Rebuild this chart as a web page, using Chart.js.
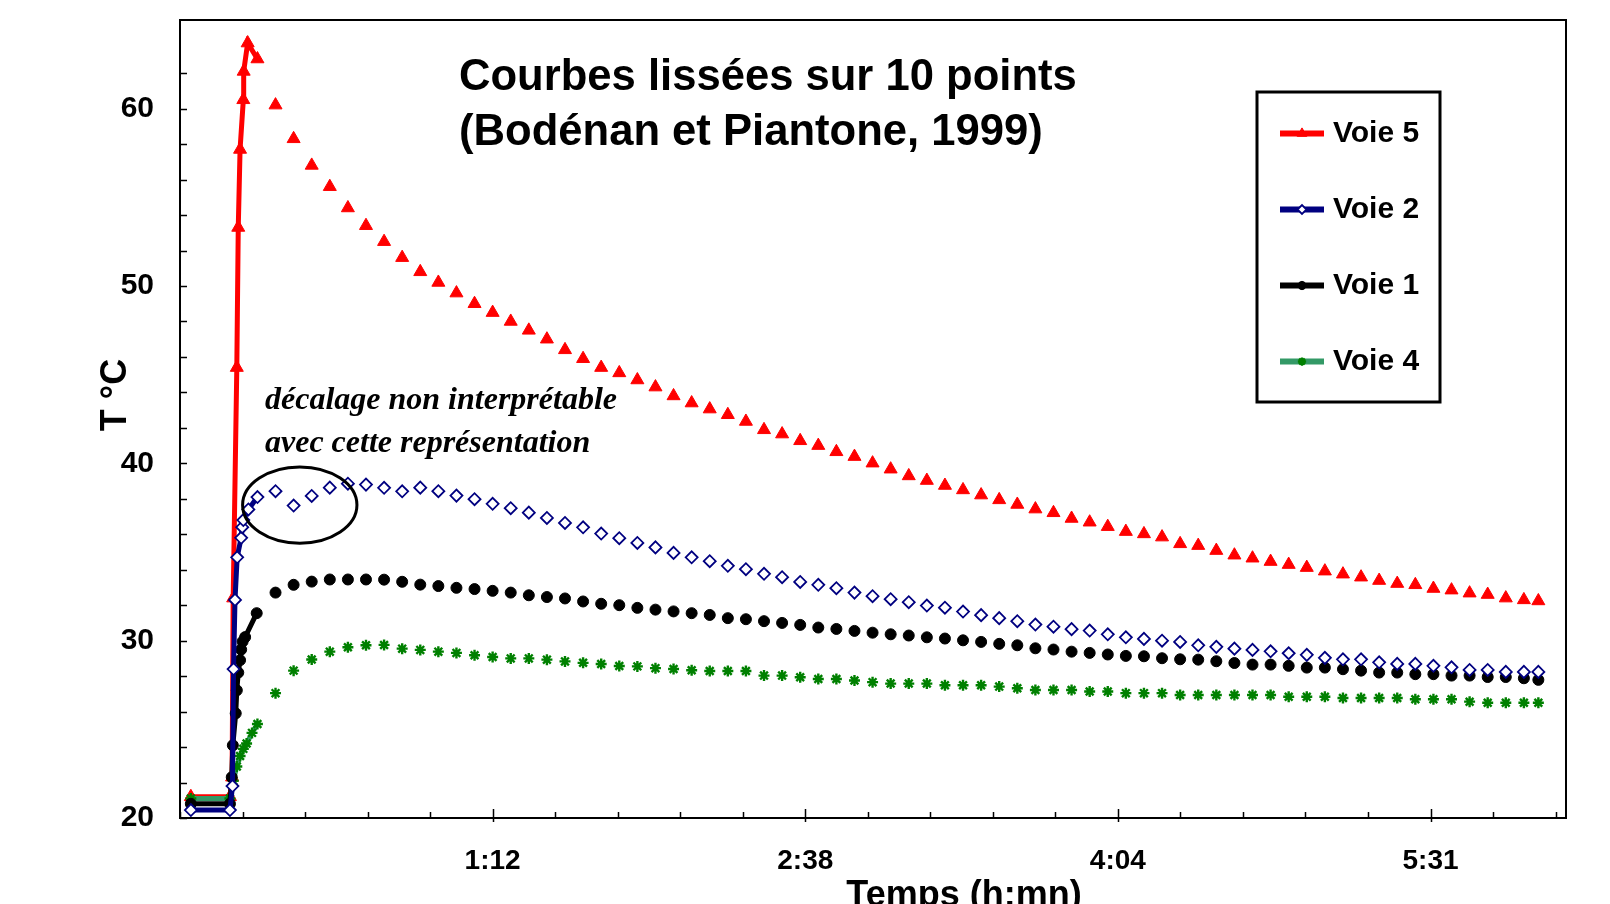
<!DOCTYPE html>
<html>
<head>
    <title>Courbes lissées sur 10 points</title>
    <script src="https://cdn.jsdelivr.net/npm/chart.js@4.4.1/dist/chart.umd.min.js"></script>
    <style>
        body {
            margin: 0;
            background-color: white;
        }
        .chart-container {
            width: 1610px;
            height: 904px;
        }
    </style>
</head>
<body>
    <div class="chart-container">
        <canvas id="courbesChart"></canvas>
    </div>

    <script>
        // temps en minutes (0 = début de la chauffe)
        // début de l'essai : points serrés, reliés par un trait
        const tempsDebut5 = [-11.4, -0.6, 0.0, 0.3, 1.3, 1.7, 2.2, 3.1, 3.2, 4.3, 7.0];
        const voie5Debut  = [21.2, 21.2, 22.3, 32.4, 45.4, 53.3, 57.7, 60.5, 62.1, 63.7, 62.8];
        const tempsDebut2 = [-11.4, -0.6, 0.1, 0.4, 0.8, 1.4, 2.5, 2.8, 3.1, 4.5, 7.0];
        const voie2Debut  = [20.45, 20.45, 21.8, 28.4, 32.3, 34.7, 35.8, 36.4, 36.8, 37.4, 38.1];
        const tempsDebut1 = [-11.4, -0.6, -0.1, 0.2, 1.0, 1.3, 1.7, 2.2, 2.5, 2.9, 3.6, 6.8];
        const voie1Debut  = [20.8, 20.8, 22.3, 24.1, 25.9, 27.2, 28.2, 28.9, 29.5, 29.95, 30.2, 31.55];
        const tempsDebut4 = [-11.4, -0.6, 0.3, 1.3, 2.2, 3.1, 4.0, 5.5, 7.0];
        const voie4Debut  = [21.1, 21.1, 22.1, 22.9, 23.5, 23.9, 24.2, 24.8, 25.3];

        // suite : un point toutes les 5 minutes, marqueurs seuls
        const tempsSuite = [12, 17, 22, 27, 32, 37, 42, 47, 52, 57,
            62, 67, 72, 77, 82, 87, 92, 97, 102, 107,
            112, 117, 122, 127, 132, 137, 142, 147, 152, 157,
            162, 167, 172, 177, 182, 187, 192, 197, 202, 207,
            212, 217, 222, 227, 232, 237, 242, 247, 252, 257,
            262, 267, 272, 277, 282, 287, 292, 297, 302, 307,
            312, 317, 322, 327, 332, 337, 342, 347, 352, 357, 361];
        const voie5Suite = [60.2, 58.3, 56.8, 55.6, 54.4, 53.4, 52.5, 51.6, 50.8, 50.2,
            49.6, 49.0, 48.5, 48.0, 47.5, 47.0, 46.4, 45.9, 45.4, 45.1,
            44.7, 44.3, 43.8, 43.4, 43.06, 42.74, 42.36, 41.89, 41.65, 41.27,
            41.0, 40.65, 40.38, 40.01, 39.67, 39.29, 39.03, 38.75, 38.5, 38.21,
            37.94, 37.68, 37.42, 37.21, 36.89, 36.68, 36.43, 36.15, 36.02, 35.84,
            35.46, 35.36, 35.08, 34.82, 34.65, 34.46, 34.29, 34.12, 33.92, 33.75,
            33.58, 33.39, 33.22, 33.15, 32.94, 32.85, 32.68, 32.6, 32.4, 32.3, 32.24];
        const voie2Suite = [38.43, 37.62, 38.16, 38.63, 38.85, 38.8, 38.62, 38.42, 38.63, 38.43,
            38.18, 37.98, 37.72, 37.47, 37.22, 36.92, 36.64, 36.39, 36.04, 35.78,
            35.51, 35.26, 34.95, 34.7, 34.48, 34.22, 34.03, 33.77, 33.58, 33.31,
            33.15, 32.96, 32.71, 32.51, 32.34, 32.17, 31.98, 31.86, 31.64, 31.44,
            31.27, 31.1, 30.91, 30.79, 30.65, 30.57, 30.36, 30.19, 30.1, 30.0,
            29.93, 29.74, 29.65, 29.55, 29.48, 29.4, 29.29, 29.2, 29.03, 28.95,
            28.95, 28.78, 28.69, 28.69, 28.58, 28.5, 28.35, 28.35, 28.24, 28.24, 28.24];
        const voie1Suite = [32.71, 33.15, 33.33, 33.45, 33.45, 33.45, 33.44, 33.32, 33.16, 33.08,
            32.98, 32.91, 32.81, 32.71, 32.56, 32.46, 32.38, 32.21, 32.08, 32.0,
            31.85, 31.75, 31.65, 31.55, 31.45, 31.27, 31.21, 31.1, 31.0, 30.89,
            30.74, 30.66, 30.55, 30.45, 30.36, 30.29, 30.19, 30.12, 30.02, 29.93,
            29.82, 29.74, 29.57, 29.5, 29.38, 29.31, 29.22, 29.14, 29.12, 29.01,
            28.95, 28.93, 28.84, 28.74, 28.65, 28.65, 28.58, 28.48, 28.48, 28.39,
            28.31, 28.2, 28.2, 28.11, 28.11, 28.03, 28.03, 27.95, 27.95, 27.88, 27.79];
        const voie4Suite = [27.04, 28.31, 28.94, 29.38, 29.63, 29.74, 29.76, 29.55, 29.48, 29.38,
            29.31, 29.18, 29.08, 29.0, 29.0, 28.93, 28.83, 28.75, 28.68, 28.57,
            28.55, 28.45, 28.4, 28.33, 28.29, 28.29, 28.29, 28.03, 28.03, 27.94,
            27.84, 27.84, 27.75, 27.66, 27.58, 27.58, 27.58, 27.49, 27.49, 27.49,
            27.41, 27.32, 27.22, 27.22, 27.22, 27.13, 27.13, 27.04, 27.04, 27.04,
            26.94, 26.94, 26.94, 26.94, 26.94, 26.94, 26.84, 26.84, 26.84, 26.77,
            26.77, 26.77, 26.77, 26.7, 26.7, 26.7, 26.56, 26.5, 26.5, 26.5, 26.5];

        // graduations de l'axe des temps (minutes) et étiquettes h:mn
        const graduationsX = [-14.4, 2.88, 20.16, 37.44, 54.72, 72, 89.28, 106.56, 123.84, 141.12,
            158.4, 175.68, 192.96, 210.24, 227.52, 244.8, 262.08, 279.36, 296.64, 313.92,
            331.2, 348.48, 365.76];
        const majeuresX = [72, 158.4, 244.8, 331.2];
        const etiquettesX = ['1:12', '2:38', '4:04', '5:31'];

        // zone entourée (temps en minutes, température en °C)
        const zoneEntouree = { t0: 2.9, t1: 34.5, v0: 35.5, v1: 39.8 };

        const SANS = "'Liberation Sans', Arial, sans-serif";
        const SERIF = "'Liberation Serif', 'Times New Roman', serif";

        function points(tDebut, vDebut, vSuite) {
            return tDebut.map((t, i) => ({ x: t, y: vDebut[i] }))
                .concat(tempsSuite.map((t, i) => ({ x: t, y: vSuite[i] })));
        }

        function serie(label, tDebut, vDebut, vSuite, ligne, style) {
            const nDebut = tDebut.length;
            return Object.assign({
                label: label,
                data: points(tDebut, vDebut, vSuite),
                borderColor: ligne,
                borderWidth: 5,
                tension: 0,
                segment: {
                    borderColor: ctx => ctx.p1DataIndex < nDebut ? ligne : 'rgba(0,0,0,0)'
                }
            }, style);
        }

        const datasets = [
            serie('Voie 5', tempsDebut5, voie5Debut, voie5Suite, '#ff0000', {
                pointStyle: 'triangle', pointRadius: 7.5, pointBorderWidth: 1,
                pointBackgroundColor: '#ff0000', pointBorderColor: '#ff0000', order: 3
            }),
            serie('Voie 2', tempsDebut2, voie2Debut, voie2Suite, '#000080', {
                pointStyle: 'rectRot', pointRadius: 6, pointBorderWidth: 1.8,
                pointBackgroundColor: '#ffffff', pointBorderColor: '#000080', order: 0
            }),
            serie('Voie 1', tempsDebut1, voie1Debut, voie1Suite, '#000000', {
                pointStyle: 'circle', pointRadius: 5.5, pointBorderWidth: 1,
                pointBackgroundColor: '#000000', pointBorderColor: '#000000', order: 1
            }),
            serie('Voie 4', tempsDebut4, voie4Debut, voie4Suite, '#339966', {
                pointStyle: 'star', pointRadius: 5.5, pointBorderWidth: 2.4,
                pointBackgroundColor: '#008000', pointBorderColor: '#008000', order: 2
            })
        ];

        // cadre, graduations intérieures, titre, annotation et légende
        const decor = {
            id: 'decor',
            afterDraw(chart) {
                const { ctx, chartArea: a, scales: { x, y } } = chart;
                ctx.save();
                ctx.strokeStyle = '#000';
                ctx.lineWidth = 2;
                ctx.strokeRect(a.left, a.top, a.right - a.left, a.bottom - a.top);

                ctx.lineWidth = 1.5;
                ctx.beginPath();
                y.ticks.forEach(t => {
                    const py = Math.round(y.getPixelForValue(t.value)) + 0.5;
                    ctx.moveTo(a.left, py);
                    ctx.lineTo(a.left + 7, py);
                });
                x.ticks.forEach(t => {
                    const px = Math.round(x.getPixelForValue(t.value)) + 0.5;
                    const majeure = majeuresX.some(m => Math.abs(m - t.value) < 0.01);
                    ctx.moveTo(px, a.bottom + (majeure ? 4 : 0));
                    ctx.lineTo(px, a.bottom - (majeure ? 9 : 6));
                });
                ctx.stroke();

                // ellipse
                const ex0 = x.getPixelForValue(zoneEntouree.t0), ex1 = x.getPixelForValue(zoneEntouree.t1);
                const ey0 = y.getPixelForValue(zoneEntouree.v1), ey1 = y.getPixelForValue(zoneEntouree.v0);
                ctx.lineWidth = 3;
                ctx.beginPath();
                ctx.ellipse((ex0 + ex1) / 2, (ey0 + ey1) / 2, (ex1 - ex0) / 2, (ey1 - ey0) / 2, 0, 0, Math.PI * 2);
                ctx.stroke();

                ctx.fillStyle = '#000';
                ctx.textAlign = 'left';
                ctx.textBaseline = 'alphabetic';
                ctx.font = 'italic bold 32px ' + SERIF;
                ctx.fillText('décalage non interprétable', 265, 409);
                ctx.fillText('avec cette représentation', 265, 452);

                ctx.font = 'bold 43.6px ' + SANS;
                ctx.fillText('Courbes lissées sur 10 points', 459, 90);
                ctx.fillText('(Bodénan et Piantone, 1999)', 459, 145);

                // titres des axes
                ctx.font = 'bold 36px ' + SANS;
                ctx.textAlign = 'center';
                ctx.fillText('Temps (h:mn)', 964, 906);
                ctx.save();
                ctx.translate(116, 395);
                ctx.rotate(-Math.PI / 2);
                ctx.textBaseline = 'middle';
                ctx.fillText('T °C', 0, 0);
                ctx.restore();

                // légende
                ctx.lineWidth = 3;
                ctx.strokeRect(1257, 92, 183, 310);
                chart.data.datasets.forEach((ds, i) => {
                    const ly = 133.5 + i * 76;
                    ctx.strokeStyle = ds.borderColor;
                    ctx.lineWidth = 6;
                    ctx.beginPath();
                    ctx.moveTo(1280, ly);
                    ctx.lineTo(1324, ly);
                    ctx.stroke();
                    ctx.fillStyle = ds.pointBackgroundColor;
                    ctx.strokeStyle = ds.pointBorderColor;
                    ctx.lineWidth = ds.pointBorderWidth;
                    Chart.helpers.drawPoint(ctx, {
                        pointStyle: ds.pointStyle,
                        radius: ds.pointRadius * 0.75,
                        borderWidth: ds.pointBorderWidth,
                        rotation: 0
                    }, 1302, ly);
                    ctx.fillStyle = '#000';
                    ctx.font = 'bold 30px ' + SANS;
                    ctx.textAlign = 'left';
                    ctx.textBaseline = 'middle';
                    ctx.fillText(ds.label, 1333, ly);
                });
                ctx.restore();
            }
        };

        new Chart(document.getElementById('courbesChart'), {
            type: 'line',
            data: { datasets: datasets },
            options: {
                responsive: true,
                maintainAspectRatio: false,
                animation: false,
                layout: { padding: { top: 20, right: 44, left: 0, bottom: 0 } },
                plugins: {
                    legend: { display: false },
                    tooltip: { enabled: false }
                },
                scales: {
                    x: {
                        type: 'linear',
                        min: -14.4,
                        max: 368.64,
                        afterBuildTicks: scale => {
                            scale.ticks = graduationsX.map(v => ({ value: v }));
                        },
                        afterFit: scale => {
                            scale.height = 86;
                            scale.paddingLeft = 0;
                            scale.paddingRight = 0;
                        },
                        grid: { display: false, drawTicks: false },
                        border: { display: false },
                        ticks: {
                            autoSkip: false,
                            maxRotation: 0,
                            padding: 26,
                            color: '#000',
                            font: { family: SANS, size: 28, weight: 'bold' },
                            callback: value => {
                                const i = majeuresX.findIndex(m => Math.abs(m - value) < 0.01);
                                return i >= 0 ? etiquettesX[i] : '';
                            }
                        }
                    },
                    y: {
                        min: 20,
                        max: 65,
                        afterBuildTicks: scale => {
                            scale.ticks = scale.ticks.filter(t => t.value % 2 === 0);
                        },
                        afterFit: scale => {
                            scale.width = 180;
                            scale.paddingTop = 0;
                            scale.paddingBottom = 0;
                        },
                        grid: { display: false, drawTicks: false },
                        border: { display: false },
                        ticks: {
                            stepSize: 2,
                            autoSkip: false,
                            padding: 26,
                            color: '#000',
                            font: { family: SANS, size: 30, weight: 'bold' },
                            callback: value => (value % 10 === 0 ? value : '')
                        }
                    }
                }
            },
            plugins: [decor]
        });
    </script>
</body>
</html>
